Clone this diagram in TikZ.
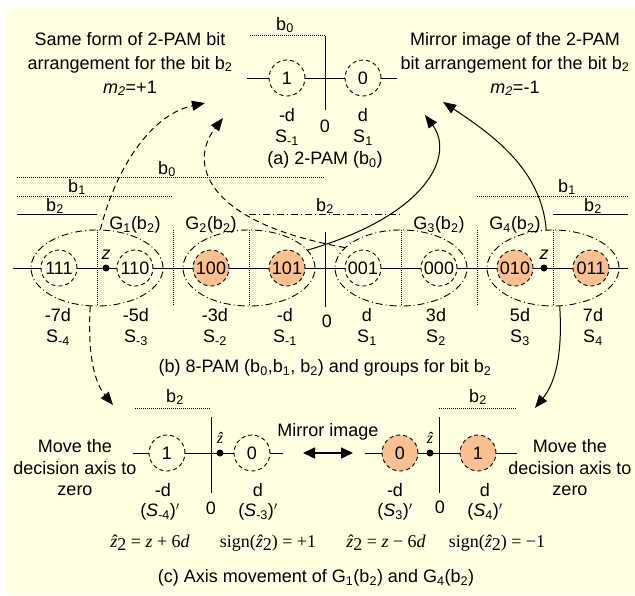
\documentclass[tikz,border=0pt]{standalone}
\usepackage{fontspec}
\setmainfont{Liberation Sans}
\newfontfamily\tnr{Liberation Serif}
\usetikzlibrary{shapes.geometric,arrows.meta}
\definecolor{bgy}{HTML}{FFFFE1}
\definecolor{peach}{HTML}{FAC090}
\newcommand\sub[1]{\textsubscript{#1}}
\newcommand\zhtwo{{\itshape\^{z}}\raisebox{-0.4ex}{2}}
\begin{document}
\begin{tikzpicture}[x=1pt,y=-1pt,
  txt/.style={font=\fontsize{18}{22}\selectfont, inner sep=0pt},
  pt/.style={circle, draw, line width=0.9pt, dash pattern=on 4pt off 3pt, minimum size=36pt, inner sep=0pt, fill=bgy, font=\fontsize{18}{22}\selectfont},
  hot/.style={pt, fill=peach},
  grp/.style={ellipse, draw, line width=0.9pt, dash pattern=on 7pt off 3pt on 1pt off 3pt, minimum width=132pt, minimum height=76pt, inner sep=0pt},
  bitdot/.style={line width=0.8pt, dash pattern=on 1pt off 1pt},
  ax/.style={line width=1pt},
  zdot/.style={circle, fill=black, minimum size=7pt, inner sep=0pt},
  con/.style={line width=1pt, -{Triangle[length=13pt,width=10pt]}},
  dcon/.style={con, dash pattern=on 6pt off 4pt},
  frm/.style={font=\tnr\fontsize{18}{20}\selectfont, inner sep=0pt},
]
\useasboundingbox (0,0) rectangle (635,595);
\fill[bgy] (6,7) rectangle (635,595);

% ---------- (a) 2-PAM ----------
\node[txt, align=center, font=\fontsize{18}{24}\selectfont] (tl) at (130,64)
  {Same form of 2-PAM bit\\arrangement for the bit b\sub{2}\\\textit{m}\sub{\textit{2}}=+1};
\node[txt, align=center, font=\fontsize{18}{24}\selectfont] (tr) at (515,64)
  {Mirror image of the 2-PAM\\bit arrangement for the bit b\sub{2}\\\textit{m}\sub{\textit{2}}=-1};
\node[txt] (ab0) at (285,25) {b\sub{0}};
\draw[bitdot] (250,35) -- (325,35);
\draw[ax] (325,36) -- (325,110);
\draw[ax] (247,78) -- (397,78);
\node[pt] (a1) at (287,78) {1};
\node[pt] (a0) at (363,78) {0};
\node[txt] (amd) at (287,115) {-d};
\node[txt] (asm) at (287,138) {S\sub{-1}};
\node[txt] (az) at (325,126) {0};
\node[txt] (apd) at (363,115) {d};
\node[txt] (asp) at (363,138) {S\sub{1}};
\node[txt] (capa) at (325,160) {(a) 2-PAM (b\sub{0})};

% ---------- (b) 8-PAM ----------
\node[txt] (lb0) at (167,169) {b\sub{0}};
\draw[bitdot] (17,177) -- (325,177);
\node[txt] (lb1) at (77,187) {b\sub{1}};
\draw[bitdot] (17,196) -- (173,196);
\node[txt] (lb2) at (55,206) {b\sub{2}};
\draw[ax] (17,214) -- (97,214);
\node[txt] (mb2) at (325,206) {b\sub{2}};
\draw[line width=0.9pt, dash pattern=on 7pt off 3pt on 1pt off 3pt] (249,214) -- (401,214);
\node[txt] (rb1) at (567,187) {b\sub{1}};
\draw[bitdot] (477,196) -- (628,196);
\node[txt] (rb2) at (593,206) {b\sub{2}};
\draw[ax] (553,214) -- (628,214);

\node[grp] (g1) at (97,268) {};
\node[grp] (g2) at (249,268) {};
\node[grp] (g3) at (401,268) {};
\node[grp] (g4) at (553,268) {};
\foreach \sx in {97,173,249,401,477,553}
  \draw[bitdot] (\sx,230) -- (\sx,306);
\draw[ax] (325,232) -- (325,307);
\draw[ax] (13,268) -- (628,268);

\node[pt]  (c111) at (59,268)  {111};
\node[pt]  (c110) at (135,268) {110};
\node[hot] (c100) at (211,268) {100};
\node[hot] (c101) at (287,268) {101};
\node[pt]  (c001) at (363,268) {001};
\node[pt]  (c000) at (439,268) {000};
\node[hot] (c010) at (515,268) {010};
\node[hot] (c011) at (591,268) {011};

\node[zdot] (z1) at (106,268) {};
\node[txt] (z1l) at (106,255) {\textit{z}};
\node[zdot] (z4) at (544,268) {};
\node[txt] (z4l) at (544,255) {\textit{z}};

\node[txt] (gl1) at (135,225) {G\sub{1}(b\sub{2})};
\node[txt] (gl2) at (211,225) {G\sub{2}(b\sub{2})};
\node[txt] (gl3) at (439,225) {G\sub{3}(b\sub{2})};
\node[txt] (gl4) at (515,225) {G\sub{4}(b\sub{2})};

\node[txt] (v1) at (58,315) {-7d};
\node[txt] (v2) at (136,315) {-5d};
\node[txt] (v3) at (215,315) {-3d};
\node[txt] (v4) at (285,315) {-d};
\node[txt] (v0) at (327,321) {0};
\node[txt] (v5) at (367,315) {d};
\node[txt] (v6) at (436,315) {3d};
\node[txt] (v7) at (520,315) {5d};
\node[txt] (v8) at (593,315) {7d};
\node[txt] (s1) at (58,338) {S\sub{-4}};
\node[txt] (s2) at (136,338) {S\sub{-3}};
\node[txt] (s3) at (215,338) {S\sub{-2}};
\node[txt] (s4) at (285,338) {S\sub{-1}};
\node[txt] (s5) at (367,338) {S\sub{1}};
\node[txt] (s6) at (436,338) {S\sub{2}};
\node[txt] (s7) at (520,338) {S\sub{3}};
\node[txt] (s8) at (593,338) {S\sub{4}};
\node[txt] (capb) at (325,368) {(b) 8-PAM (b\sub{0},b\sub{1}, b\sub{2}) and groups for bit b\sub{2}};

% ---------- (c) axis movement ----------
\node[txt, align=center, font=\fontsize{18}{21.5}\selectfont] (ml) at (75,468) {Move the\\decision axis to\\zero};
\node[txt, align=center, font=\fontsize{18}{21.5}\selectfont] (mr) at (570,468) {Move the\\decision axis to\\zero};

\node[txt] (clb2) at (175,397) {b\sub{2}};
\draw[bitdot] (135,408) -- (211,408);
\draw[ax] (211,417) -- (211,493);
\draw[ax] (133,453) -- (283,453);
\node[pt] (cl1) at (167,453) {1};
\node[pt] (cl0) at (252,453) {0};
\node[zdot] (zl) at (220,453) {};
\node[frm, font=\tnr\fontsize{16}{18}\selectfont] (zll) at (220,438) {\itshape\^{z}};

\node[txt] (crb2) at (478,397) {b\sub{2}};
\draw[bitdot] (439,408) -- (517,408);
\draw[ax] (439,417) -- (439,493);
\draw[ax] (365,453) -- (517,453);
\node[hot] (cr0) at (400,453) {0};
\node[hot] (cr1) at (478,453) {1};
\node[zdot] (zr) at (430,453) {};
\node[frm, font=\tnr\fontsize{16}{18}\selectfont] (zrl) at (430,438) {\itshape\^{z}};

\node[txt] (mi) at (328,432) {Mirror image};
\coordinate (ma1) at (303,453);
\coordinate (ma2) at (353,453);
\draw[line width=1.5pt, {Triangle[length=12pt,width=11pt]}-{Triangle[length=12pt,width=11pt]}] (ma1) -- (ma2);

\node[txt] (cl-md) at (163,490) {-d};
\node[txt] (cl-s) at (160,512) {(\textit{S}\sub{-4})$'$};
\node[txt] (cl-0) at (211,508) {0};
\node[txt] (cl-pd) at (258,490) {d};
\node[txt] (cl-s2) at (258,512) {(\textit{S}\sub{-3})$'$};
\node[txt] (cr-md) at (395,490) {-d};
\node[txt] (cr-s) at (395,512) {(\textit{S}\sub{3})$'$};
\node[txt] (cr-0) at (440,507) {0};
\node[txt] (cr-pd) at (485,490) {d};
\node[txt] (cr-s2) at (485,512) {(\textit{S}\sub{4})$'$};

\node[frm] (f1) at (150,543) {\zhtwo{} = {\itshape z} + 6{\itshape d}};
\node[frm] (f2) at (268,543) {sign(\zhtwo) = +1};
\node[frm] (f3) at (386,543) {\zhtwo{} = {\itshape z} {\textminus} 6{\itshape d}};
\node[frm] (f4) at (497,543) {sign(\zhtwo) = {\textminus}1};
\node[txt] (capc) at (316,578) {(c) Axis movement of G\sub{1}(b\sub{2}) and G\sub{4}(b\sub{2})};

% ---------- connectors ----------
\coordinate (t1) at (205,103);
\coordinate (t2) at (223,118);
\coordinate (t3) at (443,102);
\coordinate (t4) at (425,115);
\coordinate (t5) at (113,405);
\coordinate (t6) at (535,408);
\draw[dcon] (g1.85) .. controls +(15,-60) and +(-55,12) .. (t1);
\draw[dcon] (g3.160) .. controls +(-140,-25) and +(-35,45) .. (t2);
\draw[con] (g2.17) .. controls +(120,-35) and +(30,40) .. (t4);
\draw[con] (g4.100) .. controls +(-5,-60) and +(50,33) .. (t3);
\draw[dcon] (g1.260) .. controls +(-3,50) and +(-18,-22) .. (t5);
\draw[con] (g4.280) .. controls +(3,50) and +(20,-25) .. (t6);
\end{tikzpicture}
\end{document}
